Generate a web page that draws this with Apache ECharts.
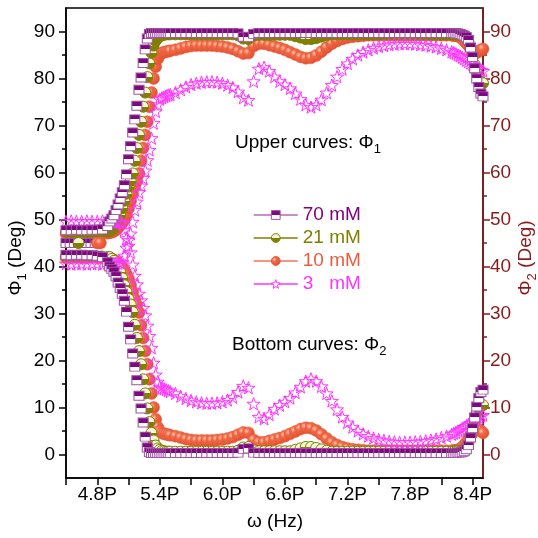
<!DOCTYPE html>
<html><head><meta charset="utf-8">
<script src="https://cdn.jsdelivr.net/npm/echarts@6/dist/echarts.min.js"></script>
<style>html,body{margin:0;padding:0;background:#fff}#c{width:538px;height:538px}</style>
</head><body><div id="c"></div>
<script>
// shared frequency grid (x)
const freq = [4.50,4.55,4.60,4.65,4.70,4.75,4.80,4.85,4.90,
4.92,4.94,4.96,4.98,5.00,5.02,5.04,5.06,5.08,5.10,5.12,5.14,5.16,5.18,5.20,5.22,5.24,5.26,5.28,5.30,5.32,5.34,5.36,5.38,5.40,5.42,5.44,5.46,5.48,5.50,
5.55,5.60,5.65,5.70,5.75,5.80,5.85,5.90,5.95,6.00,
6.05,6.10,6.15,6.20,6.25,6.30,6.35,6.40,6.45,6.50,
6.55,6.60,6.65,6.70,6.75,6.80,6.85,6.90,6.95,7.00,
7.05,7.10,7.15,7.20,7.25,7.30,7.35,7.40,7.45,7.50,
7.55,7.60,7.65,7.70,7.75,7.80,7.85,7.90,7.95,8.00,
8.05,8.10,8.15,8.20,
8.22,8.24,8.26,8.28,8.30,8.32,8.34,8.36,8.38,8.40,8.42,8.44,8.46,8.48,8.50];

// 70 mM
const phi1_70 = [47.7,47.7,47.8,47.7,47.7,47.8,47.8,47.9,48.6,
49.6,50.2,50.9,52.0,53.2,54.5,55.8,57.3,59.6,62.8,65.6,68.5,71.3,74.2,77.6,80.2,83.3,86.2,88.5,89.5,89.7,89.7,89.7,89.7,89.7,89.7,89.7,89.7,89.7,89.7,
89.7,89.7,89.7,89.7,89.7,89.7,89.7,89.7,89.7,89.7,
89.7,89.7,89.6,88.9,88.8,89.5,89.7,89.7,89.7,89.7,
89.7,89.7,89.7,89.7,89.7,89.7,89.7,89.7,89.7,89.7,
89.7,89.7,89.7,89.7,89.7,89.7,89.7,89.7,89.7,89.7,
89.7,89.7,89.7,89.7,89.7,89.7,89.7,89.7,89.7,89.7,
89.7,89.7,89.7,89.7,
89.7,89.6,89.6,89.5,89.3,89.1,88.8,88.2,86.6,84.6,82.2,80.0,78.2,76.8,76.2];
const phi2_70 = [42.5,42.4,42.5,42.5,42.4,42.4,42.3,42.0,40.9,
40.0,39.5,38.9,37.9,36.6,35.4,34.2,32.7,30.4,27.2,24.5,21.5,18.7,15.8,12.5,9.8,6.8,3.8,1.5,0.5,0.3,0.3,0.3,0.3,0.3,0.3,0.3,0.3,0.3,0.3,
0.3,0.3,0.3,0.3,0.3,0.3,0.3,0.3,0.3,0.3,
0.3,0.3,0.4,1.2,1.3,0.4,0.3,0.3,0.3,0.3,
0.3,0.3,0.3,0.3,0.3,0.3,0.3,0.3,0.3,0.3,
0.3,0.3,0.3,0.3,0.3,0.3,0.3,0.3,0.3,0.3,
0.3,0.3,0.3,0.3,0.3,0.3,0.3,0.3,0.3,0.3,
0.3,0.3,0.3,0.3,
0.3,0.3,0.4,0.4,0.5,0.7,1.1,2.0,3.6,5.6,7.9,10.2,12.0,13.3,13.8];

// 21 mM
const phi1_21 = [47.4,47.3,47.4,47.4,47.3,47.4,47.4,47.5,47.5,
47.6,47.9,48.3,49.0,49.9,51.0,52.4,54.0,55.5,57.0,58.2,59.8,62.5,65.2,68.0,70.8,74.0,77.0,80.3,83.2,85.5,87.0,88.0,88.6,89.0,89.2,89.3,89.4,89.4,89.4,
89.4,89.4,89.4,89.4,89.4,89.4,89.4,89.4,89.4,89.4,
89.4,89.4,89.2,88.5,88.4,89.1,89.3,89.3,89.3,89.3,
89.3,89.3,89.3,89.0,88.7,88.4,88.4,88.6,88.9,89.2,
89.4,89.4,89.4,89.4,89.4,89.4,89.4,89.4,89.4,89.4,
89.4,89.4,89.4,89.4,89.4,89.4,89.4,89.4,89.4,89.4,
89.4,89.4,89.4,89.4,
89.4,89.4,89.3,89.3,89.2,89.0,88.6,87.8,86.5,84.8,83.0,81.3,80.1,79.3,79.0];
const phi2_21 = [42.2,42.2,42.1,42.2,42.2,42.1,42.1,42.1,42.0,
42.0,41.6,41.2,40.6,39.8,38.8,37.5,36.0,34.6,33.1,31.9,30.3,27.6,24.8,22.0,19.2,16.0,13.0,9.8,6.9,4.6,3.0,1.9,1.3,1.0,0.8,0.7,0.6,0.6,0.6,
0.6,0.6,0.6,0.6,0.6,0.6,0.6,0.6,0.6,0.6,
0.6,0.6,0.8,1.5,1.6,0.9,0.7,0.7,0.7,0.7,
0.7,0.7,0.7,1.0,1.3,1.6,1.6,1.4,1.1,0.8,
0.6,0.6,0.6,0.6,0.6,0.6,0.6,0.6,0.6,0.6,
0.6,0.6,0.6,0.6,0.6,0.6,0.6,0.6,0.6,0.6,
0.6,0.6,0.6,0.6,
0.6,0.6,0.7,0.7,0.8,1.0,1.5,2.4,3.8,5.4,7.2,8.8,9.8,10.3,10.5];

// 10 mM
const phi1_10 = [47.0,47.0,46.9,47.0,47.0,46.9,47.0,47.0,47.1,
47.2,47.3,47.5,47.8,48.2,48.8,49.3,49.9,51.0,52.4,54.0,55.5,57.0,58.2,59.8,62.5,65.2,68.0,70.8,74.0,77.0,80.0,82.5,84.2,85.0,85.4,85.6,85.7,85.8,85.9,
86.1,86.4,86.7,86.9,87.0,87.0,87.0,87.0,86.9,86.8,
86.6,86.3,85.8,85.3,85.4,86.9,87.4,87.4,87.1,86.8,
86.5,86.1,85.6,85.1,84.6,84.3,84.4,84.9,85.7,86.6,
87.4,88.0,88.4,88.7,88.9,89.0,89.1,89.2,89.2,89.2,
89.2,89.2,89.2,89.2,89.2,89.2,89.2,89.2,89.2,89.2,
89.2,89.2,89.2,89.2,
89.1,89.1,89.0,88.8,88.5,88.0,87.5,87.0,86.3,85.7,85.4,85.5,85.8,86.1,86.3];
const phi2_10 = [41.8,41.8,41.9,41.8,41.8,41.9,41.8,41.8,41.7,
41.7,41.6,41.4,41.1,40.7,40.2,39.8,39.2,38.4,37.4,36.0,34.5,33.0,31.8,30.2,27.5,24.8,22.0,19.2,16.0,13.0,10.0,7.5,5.8,5.0,4.6,4.4,4.3,4.2,4.1,
3.9,3.6,3.3,3.1,3.0,3.0,3.0,3.0,3.1,3.2,
3.4,3.7,4.2,4.7,4.6,3.1,2.6,2.6,2.9,3.2,
3.5,3.9,4.4,4.9,5.4,5.7,5.6,5.1,4.3,3.4,
2.6,2.0,1.6,1.3,1.1,1.0,0.9,0.8,0.8,0.8,
0.8,0.8,0.8,0.8,0.8,0.8,0.8,0.8,0.8,0.8,
0.8,0.8,0.8,0.8,
0.9,0.9,1.0,1.2,1.5,2.0,2.6,3.3,4.0,4.6,5.1,5.4,5.3,5.0,4.6];

// 3 mM
const phi1_3 = [49.6,49.7,49.6,49.6,49.7,49.6,49.6,49.7,49.6,
49.6,49.6,49.6,49.5,49.5,49.4,49.2,47.8,46.0,45.6,47.0,49.5,52.0,53.8,55.8,57.2,58.8,60.4,62.6,64.8,67.3,70.5,73.0,74.5,75.6,75.9,76.1,76.3,76.5,76.6,
77.0,77.6,78.2,78.7,79.0,79.2,79.3,79.3,79.2,79.0,
78.6,78.1,77.2,75.9,75.4,79.4,82.1,82.4,81.6,80.4,
79.4,78.7,77.9,76.8,75.6,74.4,73.9,74.4,75.5,77.0,
78.6,80.4,82.0,83.2,84.2,85.0,85.6,86.1,86.5,86.8,
87.0,87.2,87.3,87.4,87.4,87.4,87.3,87.2,87.1,86.9,
86.7,86.4,86.1,85.7,
85.5,85.3,85.0,84.8,84.5,84.2,83.9,83.6,83.3,83.0,82.7,82.4,82.1,81.8,81.6];
const phi2_3 = [40.6,40.5,40.6,40.6,40.5,40.6,40.6,40.5,40.6,
40.6,40.6,40.6,40.7,40.7,40.8,41.0,42.3,44.0,44.4,43.0,40.4,38.0,36.2,34.2,32.8,31.2,29.6,27.4,25.2,22.7,19.5,17.0,15.5,14.4,14.1,14.0,13.8,13.6,13.4,
13.0,12.4,11.9,11.5,11.2,11.0,10.9,10.9,11.0,11.2,
11.6,12.2,13.3,14.6,14.2,10.8,8.0,7.6,8.5,9.7,
10.5,11.2,12.0,13.2,14.4,15.6,16.1,15.6,14.5,13.0,
11.4,9.6,8.0,6.8,5.8,5.0,4.4,3.9,3.5,3.2,
3.0,2.8,2.7,2.6,2.6,2.6,2.7,2.8,2.9,3.1,
3.3,3.6,3.9,4.3,
4.5,4.7,5.0,5.2,5.5,5.8,6.1,6.4,6.7,7.0,7.3,7.6,7.9,8.2,8.4];

// stray points at 45 deg (low frequency)
const stray70X = [4.50,4.54,4.58,4.62,4.66,4.70,4.74,4.78];
const stray70Y = [45,45,45,45,45,45,45,45];
const stray21X = [4.62];
const stray21Y = [45];
const stray10X = [4.80,4.83];
const stray10Y = [45,45];

// axis ticks / labels
const xTicks = [4.5,4.8,5.1,5.4,5.7,6.0,6.3,6.6,6.9,7.2,7.5,7.8,8.1,8.4];
const xLabels = [4.8,5.4,6.0,6.6,7.2,7.8,8.4];
const yMajor = [0,10,20,30,40,50,60,70,80,90];
const yMinor = [5,15,25,35,45,55,65,75,85];
const legendNames = ['70 mM','21 mM','10 mM','3   mM'];

const F = "'Liberation Sans', Arial, Helvetica, sans-serif";
const PURPLE = '#7C0A7E', OLIVE = '#7F7F00', ORANGE = '#EC5A3A', MAGENTA = '#FF33FF', DARKRED = '#8B1A1A';
const G = echarts.graphic;
const half = (top, bottom) => new G.LinearGradient(0,0,0,1,[{offset:0,color:top},{offset:0.5,color:top},{offset:0.5,color:bottom},{offset:1,color:bottom}]);
const STAR = 'path://M50 0 L61.76 33.82 L97.55 34.55 L69.02 56.18 L79.39 90.45 L50 70 L20.61 90.45 L30.98 56.18 L2.45 34.55 L38.24 33.82 Z';

const styles = {
  '70 mM': {symbol:'rect', symbolSize:[10,9], itemStyle:{color: half(PURPLE,'#ffffff'), borderColor:'#A052A4', borderWidth:1}, legendFill: half(PURPLE,'#ffffff'), line:'#B46CB6'},
  '21 mM': {symbol:'circle', symbolSize:11, itemStyle:{color: half('#F4F4D8', OLIVE), borderColor:OLIVE, borderWidth:1}, legendFill: half('#F4F4D8', OLIVE), line:OLIVE},
  '10 mM': {symbol:'circle', symbolSize:12, itemStyle:{color: new G.RadialGradient(0.35,0.35,0.65,[{offset:0,color:'#FFC6AE'},{offset:0.35,color:'#F06A48'},{offset:1,color:'#E2502E'}]), borderColor:'#E8573A', borderWidth:0.5}, legendFill: new G.RadialGradient(0.35,0.35,0.65,[{offset:0,color:'#FFC6AE'},{offset:0.35,color:'#F06A48'},{offset:1,color:'#E2502E'}]), line:'#F07458'},
  '3   mM': {symbol:STAR, symbolSize:13, itemStyle:{color:'rgba(255,255,255,0)', borderColor:MAGENTA, borderWidth:1}, legendFill:'#ffffff', line:MAGENTA}
};

function mk(name, xs, ys, z) {
  const s = styles[name];
  return {
    type:'line', name, z, xAxisIndex:0, yAxisIndex:0,
    data: xs.map((x,i)=>[x, ys[i]]),
    symbol: s.symbol, symbolSize: s.symbolSize, showAllSymbol:true, symbolKeepAspect:true,
    itemStyle: s.itemStyle,
    lineStyle: {color:s.line, width:0, opacity:0},
    emphasis:{disabled:true}, animation:false, clip:true
  };
}

const series = [
  mk('70 mM', freq, phi1_70, 6),
  mk('21 mM', freq, phi1_21, 3),
  mk('10 mM', freq, phi1_10, 2),
  mk('3   mM', freq, phi1_3, 4),
  mk('70 mM', freq, phi2_70, 6),
  mk('21 mM', freq, phi2_21, 3),
  mk('10 mM', freq, phi2_10, 2),
  mk('3   mM', freq, phi2_3, 4),
  mk('70 mM', stray70X, stray70Y, 5),
  mk('21 mM', stray21X, stray21Y, 5),
  mk('10 mM', stray10X, stray10Y, 5)
];

const legendColors = {'70 mM':'#800080','21 mM':'#7F7F00','10 mM':'#F05A3A','3   mM':'#FF33FF'};

const yBase = {type:'value', min:-5, max:95, splitLine:{show:false}};
const option = {
  animation:false,
  backgroundColor:'#fff',
  grid:{left:66, right:55, top:8, bottom:60, show:true, borderColor:'#000', borderWidth:1.5, backgroundColor:'transparent'},
  xAxis:[{
    type:'value', min:4.5, max:8.5, position:'bottom',
    axisLine:{show:true, onZero:false, lineStyle:{color:'#000', width:1.5}},
    axisTick:{show:true, customValues:xTicks, length:7, lineStyle:{color:'#000', width:1.5}},
    axisLabel:{customValues:xLabels, margin:7, fontSize:19, fontFamily:F, color:'#000', formatter:v=>v.toFixed(1)+'P'},
    splitLine:{show:false}
  }],
  yAxis:[
    Object.assign({}, yBase, {position:'left',
      axisLine:{show:true, onZero:false, lineStyle:{color:'#000', width:1.5}},
      axisTick:{show:true, customValues:yMajor, length:7, lineStyle:{color:'#000', width:1.5}},
      axisLabel:{customValues:yMajor, margin:11, fontSize:19, fontFamily:F, color:'#000'}}),
    Object.assign({}, yBase, {position:'left',
      axisLine:{show:false},
      axisTick:{show:true, customValues:yMinor, length:4, lineStyle:{color:'#000', width:1.5}},
      axisLabel:{show:false}}),
    Object.assign({}, yBase, {position:'right',
      axisLine:{show:true, onZero:false, lineStyle:{color:DARKRED, width:1.5}},
      axisTick:{show:true, customValues:yMajor, length:7, lineStyle:{color:DARKRED, width:1.5}},
      axisLabel:{customValues:yMajor, margin:7, fontSize:19, fontFamily:F, color:DARKRED}}),
    Object.assign({}, yBase, {position:'right',
      axisLine:{show:false},
      axisTick:{show:true, customValues:yMinor, length:4, lineStyle:{color:DARKRED, width:1.5}},
      axisLabel:{show:false}})
  ],
  legend:{
    orient:'vertical', left:248, top:200, itemWidth:44, itemHeight:11, itemGap:3,
    data: legendNames.map(n=>({name:n, textStyle:{color:legendColors[n]},
      lineStyle:{color:styles[n].line, width:1.5, opacity:1},
      itemStyle:{color:styles[n].legendFill, borderColor:styles[n].itemStyle.borderColor, borderWidth:1}})),
    textStyle:{fontSize:19, fontFamily:F, lineHeight:20},
    selectedMode:false
  },
  graphic:[
    {type:'text', x:235, y:143, style:{text:'{a|Upper curves: Φ}{s|1}', align:'left', verticalAlign:'middle',
      rich:{a:{fontSize:19, fontFamily:F, fill:'#000', lineHeight:26, verticalAlign:'middle'}, s:{fontSize:13, fontFamily:F, fill:'#000', lineHeight:12, verticalAlign:'bottom'}}}},
    {type:'text', x:232, y:345, style:{text:'{a|Bottom curves: Φ}{s|2}', align:'left', verticalAlign:'middle',
      rich:{a:{fontSize:19, fontFamily:F, fill:'#000', lineHeight:26, verticalAlign:'middle'}, s:{fontSize:13, fontFamily:F, fill:'#000', lineHeight:12, verticalAlign:'bottom'}}}},
    {type:'text', x:275, y:522, style:{text:'ω (Hz)', fontSize:19, fontFamily:F, fill:'#000', align:'center', verticalAlign:'middle'}},
    {type:'text', x:16, y:258, rotation:Math.PI/2, style:{text:'{a|Φ}{s|1}{a| (Deg)}', align:'center', verticalAlign:'middle',
      rich:{a:{fontSize:19, fontFamily:F, fill:'#000', lineHeight:26, verticalAlign:'middle'}, s:{fontSize:13, fontFamily:F, fill:'#000', lineHeight:12, verticalAlign:'bottom'}}}},
    {type:'text', x:526, y:258, rotation:Math.PI/2, style:{text:'{a|Φ}{s|2}{a| (Deg)}', align:'center', verticalAlign:'middle',
      rich:{a:{fontSize:19, fontFamily:F, fill:DARKRED, lineHeight:26, verticalAlign:'middle'}, s:{fontSize:13, fontFamily:F, fill:DARKRED, lineHeight:12, verticalAlign:'bottom'}}}}
  ],
  series
};
const chart = echarts.init(document.getElementById('c'), null, {renderer:'canvas'});
chart.setOption(option);
</script></body></html>
